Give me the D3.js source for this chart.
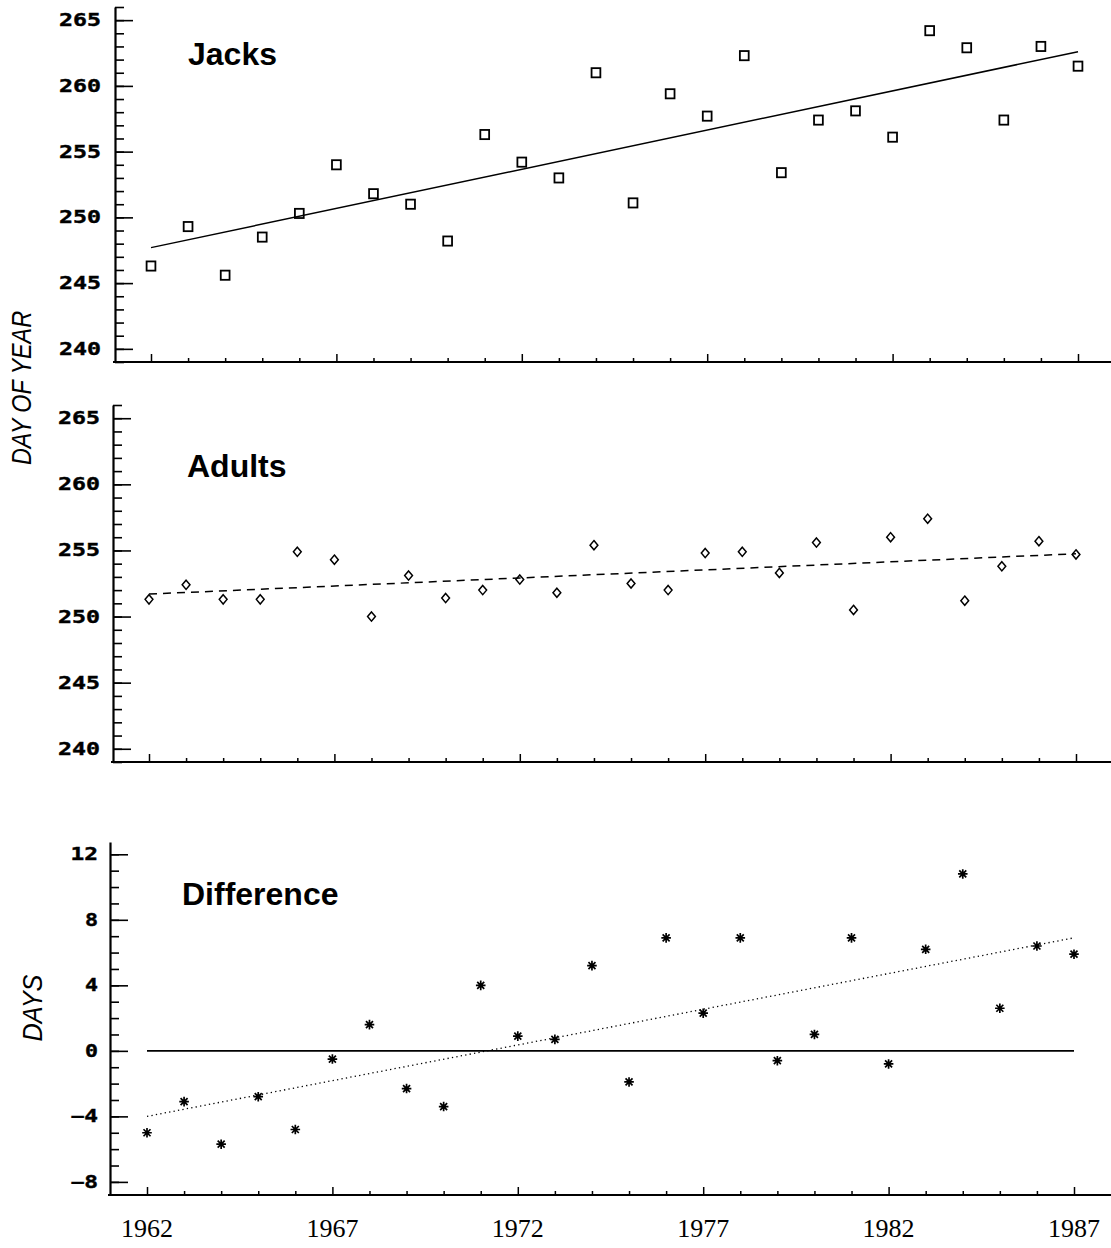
<!DOCTYPE html>
<html>
<head>
<meta charset="utf-8">
<script src="https://cdn.jsdelivr.net/npm/d3@7"></script>
<style>
  html, body { margin: 0; padding: 0; background: #fff; }
  svg { display: block; }
</style>
</head>
<body>
<svg id="chart" width="1111" height="1248"></svg>
<script>
// Return years, 1962-1987
const years = [1962, 1963, 1964, 1965, 1966, 1967, 1968, 1969, 1970, 1971, 1972, 1973, 1974,
               1975, 1976, 1977, 1978, 1979, 1980, 1981, 1982, 1983, 1984, 1985, 1986, 1987];

// Mean return date (day of year) of jacks
const jacks = [246.3, 249.3, 245.6, 248.5, 250.3, 254.0, 251.8, 251.0, 248.2, 256.3, 254.2, 253.0, 261.0,
               251.1, 259.4, 257.7, 262.3, 253.4, 257.4, 258.1, 256.1, 264.2, 262.9, 257.4, 263.0, 261.5];

// Mean return date (day of year) of adults
const adults = [251.3, 252.4, 251.3, 251.3, 254.9, 254.3, 250.0, 253.1, 251.4, 252.0, 252.8, 251.8, 255.4,
                252.5, 252.0, 254.8, 254.9, 253.3, 255.6, 250.5, 256.0, 257.4, 251.2, 253.8, 255.7, 254.7];

// Jacks minus adults, days
const difference = [-5.0, -3.1, -5.7, -2.8, -4.8, -0.5, 1.6, -2.3, -3.4, 4.0, 0.9, 0.7, 5.2,
                    -1.9, 6.9, 2.3, 6.9, -0.6, 1.0, 6.9, -0.8, 6.2, 10.8, 2.6, 6.4, 5.9];

// Trend line values at the first and last year
const trendYears = [1962, 1987];
const jacksTrend = [247.7, 262.6];
const adultsTrend = [251.7, 254.75];
const differenceTrend = [-4.0, 6.9];
const zeroLine = [0, 0];

// Labelled ticks
const dayTicks = [240, 245, 250, 255, 260, 265];
const dayMinorTicks = [239, 240, 241, 242, 243, 244, 245, 246, 247, 248, 249, 250, 251, 252, 253,
                       254, 255, 256, 257, 258, 259, 260, 261, 262, 263, 264, 265, 266];
const diffTicks = [-8, -4, 0, 4, 8, 12];
const diffMinorTicks = [-8, -7, -6, -5, -4, -3, -2, -1, 0, 1, 2, 3, 4, 5, 6, 7, 8, 9, 10, 11, 12];
const yearLabels = [1962, 1967, 1972, 1977, 1982, 1987];

const svg = d3.select("#chart");
const W = 1111;

const panels = [
  { name: "Jacks", values: jacks, trend: jacksTrend, marker: "square", trendDash: null,
    yDomain: [239, 266], yRange: [362, 7], axisX: 115, xRange: [151, 1078],
    ticks: dayTicks, minor: dayMinorTicks, labelPos: [188, 65], pad: 14 },
  { name: "Adults", values: adults, trend: adultsTrend, marker: "diamond", trendDash: "8,6",
    yDomain: [239, 266], yRange: [762, 405], axisX: 113, xRange: [149, 1076],
    ticks: dayTicks, minor: dayMinorTicks, labelPos: [187, 477], pad: 13 },
  { name: "Difference", values: difference, trend: differenceTrend, marker: "star", trendDash: "1.3,3.2",
    yDomain: [-8.8, 12.75], yRange: [1195, 842], axisX: 110, xRange: [147, 1074],
    ticks: diffTicks, minor: diffMinorTicks, labelPos: [182, 905], pad: 12, zero: true, yearLabels: true }
];

const tickFont = "'DejaVu Sans Mono', 'Liberation Mono', monospace";

panels.forEach(p => {
  const x = d3.scaleLinear().domain([1962, 1987]).range(p.xRange);
  const y = d3.scaleLinear().domain(p.yDomain).range(p.yRange);
  const g = svg.append("g");
  const baseY = p.yRange[0];

  // minor y ticks (inward)
  g.append("g")
    .attr("transform", `translate(${p.axisX},0)`)
    .call(d3.axisLeft(y).tickValues(p.minor).tickSizeInner(-9).tickSizeOuter(0).tickFormat(""))
    .call(s => s.select(".domain").remove())
    .call(s => s.selectAll("line").attr("stroke", "#000").attr("stroke-width", 1.6));

  // major y ticks with labels
  const ya = g.append("g")
    .attr("transform", `translate(${p.axisX},0)`)
    .call(d3.axisLeft(y).tickValues(p.ticks).tickSizeInner(-18).tickSizeOuter(0).tickPadding(p.pad))
    .call(s => s.select(".domain").attr("stroke", "#000").attr("stroke-width", 2.2));
  ya.selectAll("line").attr("stroke", "#000").attr("stroke-width", 1.6);
  ya.selectAll("text")
    .attr("font-family", tickFont)
    .attr("font-weight", "bold")
    .attr("font-size", 17)
    .attr("fill", "#000")
    .attr("stroke", "#000")
    .attr("stroke-width", 0.4)
    .attr("textLength", d => String(d).length * 14.5 - 1.5)
    .attr("lengthAdjust", "spacingAndGlyphs");

  // x axis line spanning to the right edge
  g.append("line")
    .attr("x1", p.axisX - 2).attr("x2", W)
    .attr("y1", baseY).attr("y2", baseY)
    .attr("stroke", "#000").attr("stroke-width", 2.2);

  // year ticks pointing up
  const xa = g.append("g")
    .attr("transform", `translate(0,${baseY})`)
    .call(d3.axisBottom(x).tickValues(years)
      .tickSizeInner(0).tickSizeOuter(0).tickFormat(""))
    .call(s => s.select(".domain").remove());
  xa.selectAll(".tick line")
    .attr("y2", d => (d - 1962) % 5 === 0 ? -8 : -4)
    .attr("stroke", "#000").attr("stroke-width", 1.5);

  if (p.yearLabels) {
    svg.append("g").selectAll("text").data(yearLabels).join("text")
      .attr("x", d => x(d))
      .attr("y", 1237)
      .attr("text-anchor", "middle")
      .attr("font-family", "'Liberation Serif', 'Times New Roman', serif")
      .attr("font-size", 26)
      .attr("fill", "#000")
      .text(d => d);
  }

  // zero reference line
  if (p.zero) {
    g.append("path")
      .datum(trendYears.map((yr, i) => [yr, zeroLine[i]]))
      .attr("d", d3.line().x(d => x(d[0])).y(d => y(d[1])))
      .attr("fill", "none").attr("stroke", "#000").attr("stroke-width", 1.6);
  }

  // trend line
  g.append("path")
    .datum(trendYears.map((yr, i) => [yr, p.trend[i]]))
    .attr("d", d3.line().x(d => x(d[0])).y(d => y(d[1])))
    .attr("fill", "none").attr("stroke", "#000")
    .attr("stroke-width", p.marker === "star" ? 1.3 : 1.5)
    .attr("stroke-dasharray", p.trendDash);

  // points
  const pts = g.append("g").selectAll("g").data(years.map((yr, i) => [yr, p.values[i]])).join("g")
    .attr("transform", d => `translate(${x(d[0])},${y(d[1])})`);
  if (p.marker === "square") {
    pts.append("rect").attr("x", -4.4).attr("y", -4.6).attr("width", 8.8).attr("height", 9.2)
      .attr("fill", "none").attr("stroke", "#000").attr("stroke-width", 1.8);
  } else if (p.marker === "diamond") {
    pts.append("path").attr("d", "M0,-4.6L3.9,0L0,4.6L-3.9,0Z")
      .attr("fill", "none").attr("stroke", "#000").attr("stroke-width", 1.5);
  } else {
    pts.append("path").attr("d", "M0,-4.8V4.8M-4.8,0H4.8M-3.5,-3.5L3.5,3.5M-3.5,3.5L3.5,-3.5")
      .attr("fill", "none").attr("stroke", "#000").attr("stroke-width", 1.7);
  }

  // panel title
  svg.append("text")
    .attr("x", p.labelPos[0]).attr("y", p.labelPos[1])
    .attr("font-family", "'Liberation Sans', Arial, sans-serif")
    .attr("font-weight", "bold")
    .attr("font-size", 32)
    .attr("fill", "#000")
    .text(p.name);
});

// axis titles
svg.append("text")
  .attr("transform", "translate(31,388) rotate(-90)")
  .attr("text-anchor", "middle")
  .attr("font-family", "'Liberation Sans', Arial, sans-serif")
  .attr("font-style", "italic")
  .attr("font-size", 27)
  .attr("textLength", 154)
  .attr("lengthAdjust", "spacingAndGlyphs")
  .attr("fill", "#000")
  .text("DAY OF YEAR");

svg.append("text")
  .attr("transform", "translate(42,1008) rotate(-90)")
  .attr("text-anchor", "middle")
  .attr("font-family", "'Liberation Sans', Arial, sans-serif")
  .attr("font-style", "italic")
  .attr("font-size", 27)
  .attr("textLength", 67)
  .attr("lengthAdjust", "spacingAndGlyphs")
  .attr("fill", "#000")
  .text("DAYS");
</script>
</body>
</html>
